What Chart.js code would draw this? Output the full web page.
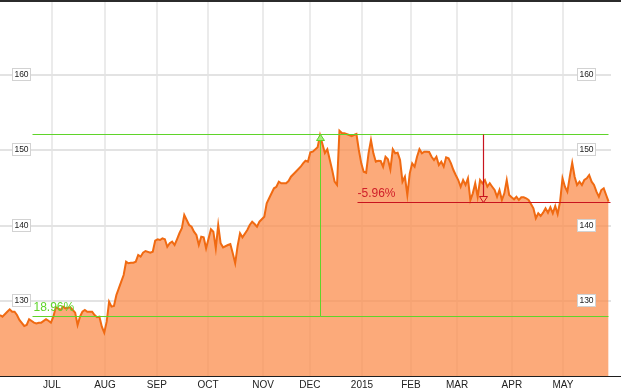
<!DOCTYPE html>
<html><head><meta charset="utf-8">
<script src="https://cdn.jsdelivr.net/npm/chart.js@4/dist/chart.umd.min.js"></script>
<style>html,body{margin:0;padding:0;background:#fff;overflow:hidden}#wrap{width:621px;height:391px;position:relative}</style>
</head><body><div id="wrap"><canvas id="c" width="621" height="391"></canvas></div>
<script>
// trading-day index of each reading, and the closing value
const dayIndex = [0,1,3,4,5,6,7,8,10,11,12,14,15,16,17,19,20,21,22,23,24,25,26,27,29,30,31,32,33,34,35,36,38,39,40,41,42,43,44,45,46,47,48,49,50,51,52,53,54,55,56,57,58,59,60,62,63,64,65,66,67,68,69,70,71,72,73,74,75,76,77,78,79,80,81,82,83,84,85,87,88,89,90,91,92,94,95,96,97,98,99,100,102,103,104,105,106,107,109,110,111,113,114,115,116,118,119,120,122,124,125,126,127,128,129,131,132,134,135,137,138,139,140,141,142,144,145,146,147,148,149,150,151,152,153,154,155,156,157,158,159,160,161,162,163,164,165,166,167,168,169,170,171,172,173,174,175,176,177,178,179,180,181,182,183,184,185,186,187,188,189,190,191,192,193,194,195,196,197,198,199,200,201,202,203,204,205,206,207,208,209,210,211,212,213,214,215,216,217,218,219,220,221,222,223,224,225,226,227,228,229,230,231,232,233,234,235,236,237,238,239,240,241,242,243,244,245,246,247,248,249,250,251];
const price = [128.11,127.89,128.55,128.87,128.55,128.55,128.11,127.45,126.65,126.78,127.54,127.09,127.00,127.09,127.09,127.54,127.35,127.09,127.89,129.14,129.00,128.78,129.22,129.00,129.14,128.78,128.42,126.78,127.89,128.55,128.78,128.55,128.55,128.11,127.81,127.89,126.56,125.76,127.22,129.88,129.22,129.31,130.77,131.66,132.54,133.43,135.20,134.99,135.07,135.07,135.20,136.09,135.87,136.40,136.62,136.40,136.53,137.99,138.18,138.09,138.31,138.18,137.19,137.65,137.86,137.42,138.18,138.98,139.64,141.41,140.74,140.08,139.85,139.19,138.75,137.42,138.52,138.44,136.98,139.51,139.19,136.98,140.08,137.65,137.11,137.42,137.55,136.32,134.99,137.29,138.98,138.44,139.41,140.08,140.52,140.21,139.85,140.52,141.18,142.97,143.63,144.96,145.17,145.84,145.63,145.63,145.93,146.50,147.17,147.83,148.28,148.63,148.50,149.75,149.83,150.41,152.00,149.65,150.15,147.39,145.84,145.40,152.62,152.31,152.27,152.05,151.91,152.05,152.18,150.05,148.28,147.17,147.03,149.61,151.38,149.61,148.50,148.63,148.59,147.83,149.16,148.82,147.49,150.15,149.61,149.69,148.72,145.84,146.50,144.07,146.95,148.28,147.83,149.16,150.15,149.61,149.83,149.83,149.79,149.16,148.72,149.16,148.06,148.50,147.83,149.08,148.95,148.28,147.39,146.70,146.06,145.17,146.06,145.40,146.29,143.40,144.29,145.63,143.84,146.06,145.63,146.06,145.17,145.63,145.17,144.73,143.84,144.73,143.40,144.29,146.06,144.07,143.76,143.50,143.84,143.40,143.76,143.76,143.63,143.40,142.87,142.30,140.97,141.64,141.28,141.72,142.30,141.72,142.43,141.64,142.61,141.54,143.18,146.29,145.17,144.51,146.50,148.36,146.50,145.40,145.84,145.40,146.06,146.29,146.73,145.84,145.40,144.51,143.84,144.73,144.96,144.07,143.18];
const monthTickPos = [21.4,43.3,64.7,85.8,108.5,127.8,149.3,169.5,188.5,211.1,232.2];
const monthLabels = ['JUL','AUG','SEP','OCT','NOV','DEC','2015','FEB','MAR','APR','MAY'];
const yTicks = [130,140,150,160];
const rangeLow = 128.0, rangeHigh = 152.2;
const drawdownLevel = 143.19;
const gainText = '18.96%', drawdownText = '-5.96%';
const gainStartIdx = 13.2, highIdx = 132, drawdownStartIdx = 147.2, drawdownArrowIdx = 199.2, lineEndIdx = 250.8;

const annotations = {
  id: 'annotations',
  afterDatasetsDraw(chart) {
    const {ctx, scales: {x, y}} = chart;
    const px = v => Math.round(x.getPixelForValue(v)) + 0.5;
    const py = v => Math.round(y.getPixelForValue(v)) + 0.5;
    ctx.save();
    // green range lines
    const green = '#5fd42a';
    ctx.strokeStyle = green; ctx.lineWidth = 1;
    ctx.beginPath();
    ctx.moveTo(px(gainStartIdx), py(rangeHigh)); ctx.lineTo(px(lineEndIdx), py(rangeHigh));
    ctx.moveTo(px(gainStartIdx), py(rangeLow)); ctx.lineTo(px(lineEndIdx), py(rangeLow));
    ctx.moveTo(px(highIdx), py(rangeLow)); ctx.lineTo(px(highIdx), py(rangeHigh) + 2);
    ctx.stroke();
    // green arrow head
    const gx = px(highIdx), gy = py(rangeHigh);
    ctx.beginPath();
    ctx.moveTo(gx, gy); ctx.lineTo(gx - 4, gy + 6); ctx.lineTo(gx + 4, gy + 6); ctx.closePath();
    ctx.fillStyle = '#a6ec7c'; ctx.fill(); ctx.stroke();
    // green text
    ctx.fillStyle = green;
    ctx.font = '12px "Liberation Sans", Arial, sans-serif';
    ctx.textBaseline = 'alphabetic'; ctx.textAlign = 'left';
    ctx.fillText(gainText, px(gainStartIdx) + 1, py(rangeLow) - 6);
    // red drawdown
    const red = '#c8141e';
    ctx.strokeStyle = red; ctx.lineWidth = 1.2;
    ctx.beginPath();
    ctx.moveTo(px(drawdownStartIdx), py(drawdownLevel)); ctx.lineTo(px(lineEndIdx) + 2, py(drawdownLevel));
    ctx.moveTo(px(drawdownArrowIdx), py(rangeHigh)); ctx.lineTo(px(drawdownArrowIdx), py(drawdownLevel));
    ctx.stroke();
    const rx = px(drawdownArrowIdx), ry = py(drawdownLevel);
    ctx.lineWidth = 1;
    ctx.beginPath();
    ctx.moveTo(rx, ry); ctx.lineTo(rx - 4, ry - 6); ctx.lineTo(rx + 4, ry - 6); ctx.closePath();
    ctx.fillStyle = 'rgba(252,172,125,1)'; ctx.fill(); ctx.stroke();
    ctx.fillStyle = '#d0202a';
    ctx.fillText(drawdownText, px(drawdownStartIdx), py(drawdownLevel) - 6);
    // y labels in boxes, both sides
    ctx.font = '8.5px "Liberation Sans", Arial, sans-serif';
    ctx.textAlign = 'center'; ctx.textBaseline = 'middle';
    yTicks.forEach(v => {
      const cy = Math.round(y.getPixelForValue(v)) - 1;
      [12, 577].forEach(bx => {
        ctx.fillStyle = '#fff';
        ctx.fillRect(bx, cy - 6, 19, 13);
        ctx.strokeStyle = '#d2d2d2'; ctx.lineWidth = 1;
        ctx.strokeRect(bx + 0.5, cy - 5.5, 18, 12);
        ctx.fillStyle = '#222';
        ctx.fillText(String(v), bx + 9.5, cy + 1);
      });
    });
    ctx.restore();
  },
  afterDraw(chart) {
    const {ctx, chartArea} = chart;
    ctx.save();
    ctx.fillStyle = '#2b2b2b';
    ctx.fillRect(0, 0, 621, 2);
    ctx.fillStyle = '#1e1e1e';
    ctx.fillRect(0, Math.round(chartArea.bottom), 621, 1);
    ctx.restore();
  }
};

new Chart(document.getElementById('c'), {
  type: 'line',
  data: {
    datasets: [{
      data: dayIndex.map((d, i) => ({x: d, y: price[i]})),
      borderColor: '#f06a12',
      borderWidth: 2,
      backgroundColor: 'rgba(251,142,78,0.75)',
      fill: 'start',
      pointRadius: 0,
      tension: 0
    }]
  },
  options: {
    responsive: false,
    animation: false,
    devicePixelRatio: 1,
    layout: {padding: {left: 0, right: 10, top: 0, bottom: 0}},
    plugins: {legend: {display: false}, tooltip: {enabled: false}},
    scales: {
      x: {
        type: 'linear', min: 0, max: 252,
        afterBuildTicks: s => { s.ticks = monthTickPos.map(v => ({value: v})); },
        afterFit: s => { s.height = 15; },
        grid: {color: '#ebebeb', lineWidth: 2, drawTicks: false},
        border: {display: false},
        ticks: {autoSkip: false, maxRotation: 0, padding: 3, color: '#222',
          font: {family: '"Liberation Sans", Arial, sans-serif', size: 10},
          callback: (v, i) => monthLabels[i]}
      },
      y: {
        min: 120, max: 170,
        afterBuildTicks: s => { s.ticks = yTicks.map(v => ({value: v})); },
        afterFit: s => { s.width = 0; },
        grid: {color: '#e3e3e3', lineWidth: 2, drawTicks: false},
        border: {display: false},
        ticks: {display: false}
      }
    }
  },
  plugins: [annotations]
});
</script></body></html>
